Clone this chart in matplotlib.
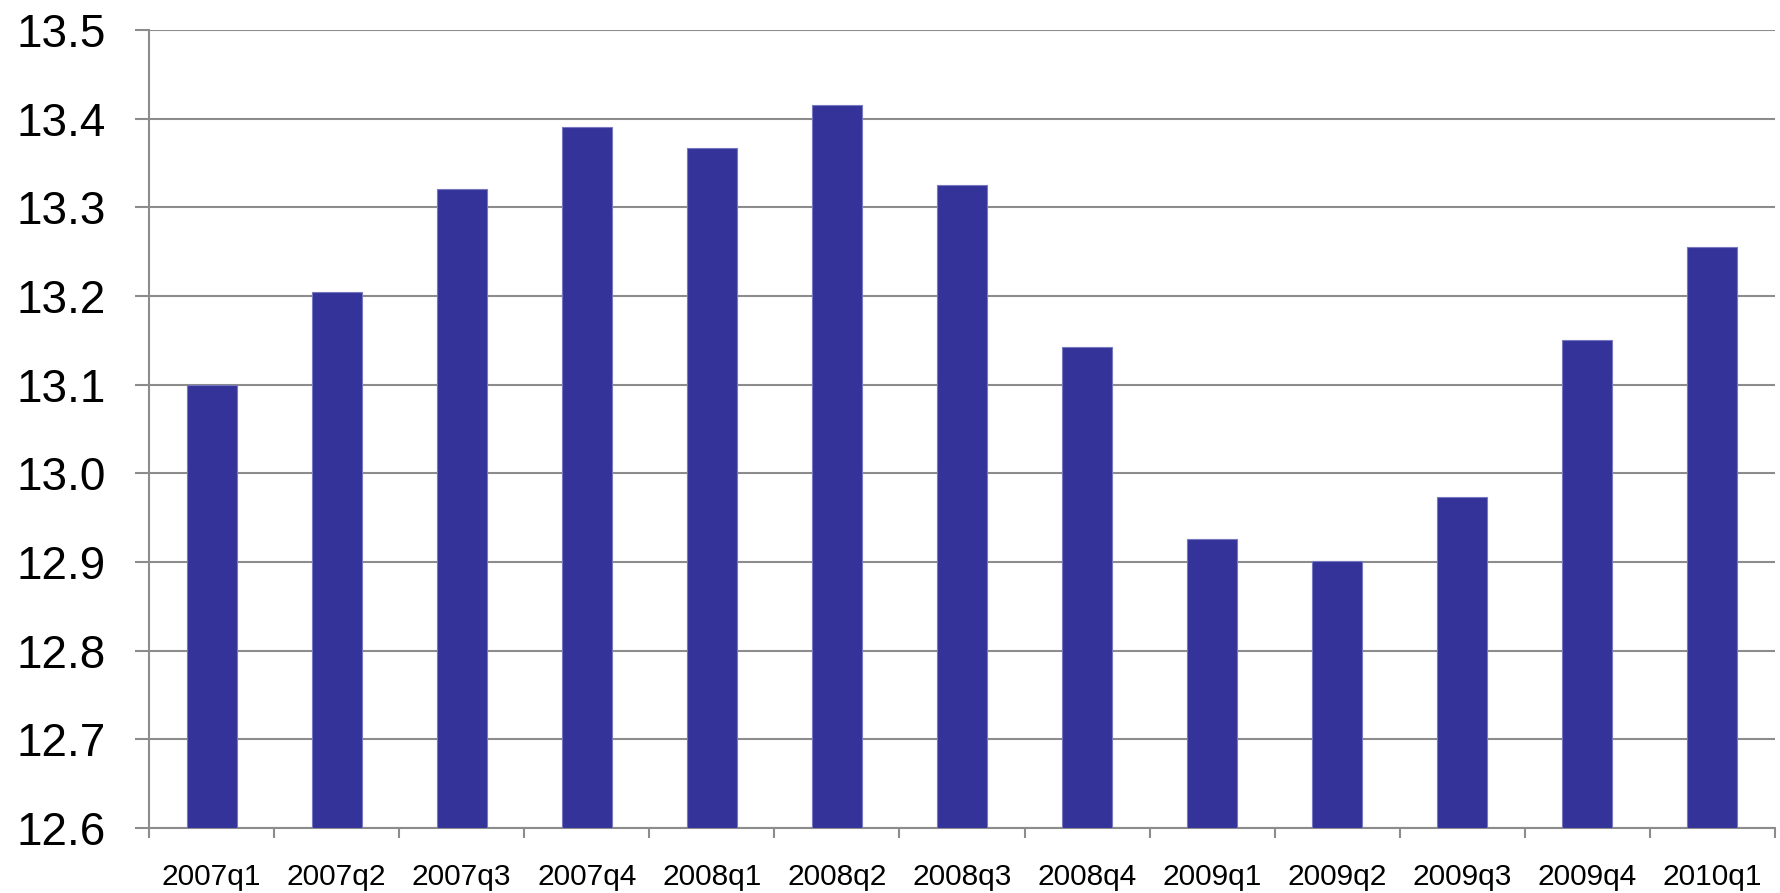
import matplotlib
matplotlib.use("Agg")
import matplotlib.pyplot as plt
import numpy as np

categories = ["2007q1", "2007q2", "2007q3", "2007q4", "2008q1", "2008q2", "2008q3",
              "2008q4", "2009q1", "2009q2", "2009q3", "2009q4", "2010q1"]
values = [13.100, 13.204, 13.321, 13.391, 13.367, 13.415, 13.325,
          13.142, 12.926, 12.901, 12.973, 13.150, 13.255]
yticks = [12.6, 12.7, 12.8, 12.9, 13.0, 13.1, 13.2, 13.3, 13.4, 13.5]

plt.rcParams['font.family'] = ['Liberation Sans', 'DejaVu Sans']

W, H = 1780, 893
fig = plt.figure(figsize=(W / 100, H / 100), dpi=100)
ax = fig.add_axes([149 / W, 1 - 828 / H, (1775 - 149) / W, (828 - 30) / H])

grid_c = "#8c8c8c"
x = np.arange(len(categories))
ax.bar(x, [v - 12.6 for v in values], bottom=12.6, width=0.4, color="#343399",
       edgecolor="#7878c0", linewidth=0.8, zorder=3)

ax.set_ylim(12.6, 13.5)
ax.set_xlim(-0.5, len(categories) - 0.5)
ax.set_yticks(yticks)
ax.set_yticklabels([f"{t:.1f}" for t in yticks], fontsize=33)
ax.yaxis.grid(True, color=grid_c, linewidth=1.5, zorder=0)
ax.set_axisbelow(True)

ax.set_xticks(x)
ax.set_xticklabels(categories, fontsize=21.5)
ax.set_xticks(np.arange(-0.5, len(categories), 1.0), minor=True)
ax.tick_params(axis='x', which='major', length=0, pad=25)
ax.tick_params(axis='x', which='minor', length=7.5, width=1.5, color=grid_c)
ax.tick_params(axis='y', length=10, width=1.5, color=grid_c, pad=21)

for s in ["top", "right"]:
    ax.spines[s].set_visible(False)
for s in ["left", "bottom"]:
    ax.spines[s].set_color(grid_c)
    ax.spines[s].set_linewidth(1.5)

fig.savefig("out.png", dpi=100, facecolor="white")
